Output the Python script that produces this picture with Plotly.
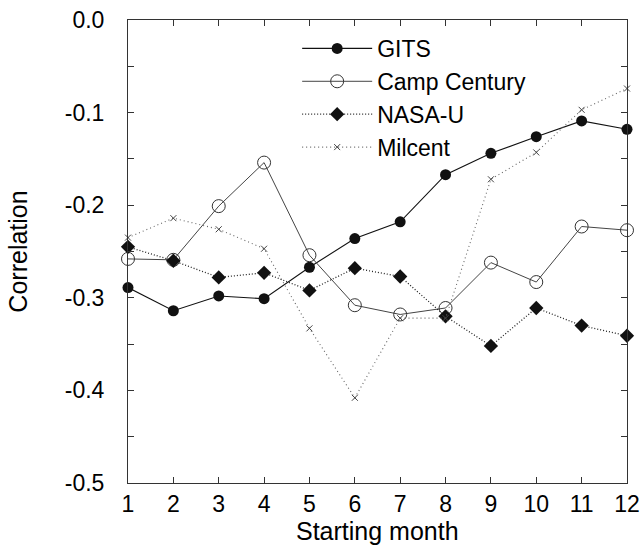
import plotly.graph_objects as go

months = list(range(1, 13))
month_labels = [str(m) for m in months]

gits = [-0.289, -0.314, -0.298, -0.301, -0.267, -0.236, -0.218, -0.167, -0.144, -0.126, -0.109, -0.118]
camp_century = [-0.258, -0.259, -0.201, -0.154, -0.254, -0.308, -0.318, -0.311, -0.262, -0.283, -0.223, -0.227]
nasa_u = [-0.245, -0.260, -0.278, -0.273, -0.292, -0.268, -0.277, -0.320, -0.352, -0.311, -0.330, -0.341]
milcent = [-0.235, -0.214, -0.226, -0.247, -0.333, -0.408, -0.322, -0.322, -0.172, -0.143, -0.097, -0.074]

y_tickvals = [0.0, -0.1, -0.2, -0.3, -0.4, -0.5]
y_ticktext = ["0.0", "-0.1", "-0.2", "-0.3", "-0.4", "-0.5"]

FONT = "Liberation Sans, Arial, Helvetica, sans-serif"

fig = go.Figure()
fig.add_trace(go.Scatter(
    x=months, y=gits, name="GITS", mode="lines+markers",
    line=dict(color="#111111", width=1.1),
    marker=dict(symbol="circle", size=11, color="#111111"),
    cliponaxis=False))
fig.add_trace(go.Scatter(
    x=months, y=camp_century, name="Camp Century", mode="lines+markers",
    line=dict(color="#444444", width=1),
    marker=dict(symbol="circle-open", size=13, color="#333333", line=dict(width=1, color="#333333")),
    cliponaxis=False))
fig.add_trace(go.Scatter(
    x=months, y=nasa_u, name="NASA-U", mode="lines+markers",
    line=dict(color="#222222", width=1.3, dash="1px,2px"),
    marker=dict(symbol="diamond", size=11, color="#111111"),
    cliponaxis=False))
fig.add_trace(go.Scatter(
    x=months, y=milcent, name="Milcent", mode="lines+markers",
    line=dict(color="#666666", width=1.1, dash="1px,3px"),
    marker=dict(symbol="x-thin", size=6, color="#444444", line=dict(width=1, color="#444444")),
    cliponaxis=False))

fig.update_layout(
    width=641, height=550,
    margin=dict(l=128, r=14, t=20, b=67),
    paper_bgcolor="white", plot_bgcolor="white",
    font=dict(family=FONT, size=23, color="#000000"),
    showlegend=True,
    legend=dict(
        x=0.339, y=0.985, xanchor="left", yanchor="top",
        bgcolor="rgba(0,0,0,0)", borderwidth=0,
        font=dict(family=FONT, size=23, color="#000000"),
        itemwidth=70, tracegroupgap=0),
    xaxis=dict(
        range=[1, 12], tickvals=months, ticktext=month_labels,
        ticks="inside", ticklen=6, tickcolor="#333333", tickwidth=1,
        showline=True, linecolor="#333333", linewidth=1, mirror="ticks",
        showgrid=False, zeroline=False, automargin=False,
        ticklabeloverflow="allow",
        tickfont=dict(family=FONT, size=23),
        ticklabelstandoff=0),
    yaxis=dict(
        range=[-0.5, 0.0], tickvals=y_tickvals, ticktext=y_ticktext,
        ticks="inside", ticklen=6, tickcolor="#333333", tickwidth=1,
        minor=dict(dtick=0.05, ticks="inside", ticklen=6, tickcolor="#333333", showgrid=False),
        showline=True, linecolor="#333333", linewidth=1, mirror="ticks",
        showgrid=False, zeroline=False, automargin=False,
        ticklabeloverflow="allow",
        tickfont=dict(family=FONT, size=23),
        title=dict(text="Correlation", font=dict(family=FONT, size=25), standoff=30),
        ticklabelstandoff=18),
    annotations=[dict(
        text="Starting month", xref="paper", yref="paper",
        x=0.5, y=-0.104, xanchor="center", yanchor="middle",
        showarrow=False, font=dict(family=FONT, size=25, color="#000000"))],
)

fig.write_html(
    "out.html",
    config={"displayModeBar": False},
    post_script="document.body.style.margin='0px';document.body.style.overflow='hidden';")
